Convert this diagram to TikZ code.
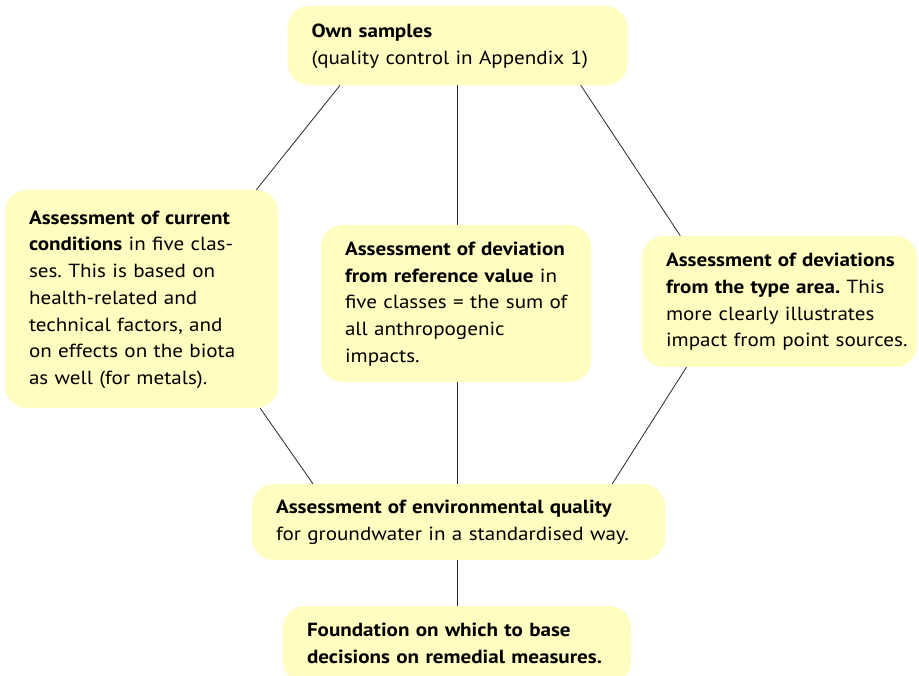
\documentclass[tikz,border=0pt]{standalone}
\usepackage{fontspec}
\setmainfont[FakeStretch=1.11]{PT Sans}
\usetikzlibrary{calc,backgrounds}
\definecolor{boxfill}{HTML}{FFFDBF}
\frenchspacing
% lines that never wrap, even past the box padding
\newcommand{\boxlines}[1]{\begin{tabular}{@{}l@{}}#1\end{tabular}}

\begin{document}
\begin{tikzpicture}[x=1pt,y=-1pt,
    box/.style={fill=boxfill, rounded corners=22pt, align=left,
        inner xsep=24pt, inner ysep=0pt,
        font=\fontsize{19pt}{26.7pt}\selectfont},
    link/.style={draw=black!85, line width=0.8pt}]
    \useasboundingbox (0,0) rectangle (919,676);

    \node[box, text width=292pt, minimum height=79pt] (own) at (457.5,45.5)
        {\boxlines{\textbf{Own samples}\\(quality control in Appendix 1)}};
    \node[box, text width=225pt, minimum height=218pt] (cond) at (141.5,299)
        {\boxlines{\textbf{Assessment of current}\\\textbf{conditions} in five clas-\\ses. This is based on\\health-related and\\technical factors, and\\on effects on the biota\\as well (for metals).}};
    \node[box, text width=222pt, minimum height=157pt] (dev) at (456,303.5)
        {\boxlines{\textbf{Assessment of deviation}\\\textbf{from reference value} in\\five classes = the sum of\\all anthropogenic\\impacts.}};
    \node[box, text width=227pt, minimum height=131pt] (type) at (779.5,301.5)
        {\boxlines{\textbf{Assessment of deviations}\\\textbf{from the type area.} This\\more clearly illustrates\\impact from point sources.}};
    \node[box, text width=365pt, minimum height=76pt] (env) at (458.5,522)
        {\boxlines{\textbf{Assessment of environmental quality}\\for groundwater in a standardised way.}};
    \node[box, text width=300pt, minimum height=77pt] (found) at (457,644.5)
        {\boxlines{\textbf{Foundation on which to base}\\\textbf{decisions on remedial measures.}}};

    % connectors run behind the boxes
    \begin{pgfonlayer}{background}
        \draw[link] ($(own.south west)!0.155!(own.south east)$) -- ($(cond.north west)!0.92!(cond.north east)$);
        \draw[link] (own.south) -- (own.south |- dev.north);
        \draw[link] ($(own.south west)!0.862!(own.south east)$) -- ($(type.north west)!0.14!(type.north east)$);
        \draw[link] ($(cond.south west)!0.934!(cond.south east)$) -- ($(env.north west)!0.148!(env.north east)$);
        \draw[link] (dev.south -| own.south) -- (env.north -| own.south);
        \draw[link] ($(type.south west)!0.162!(type.south east)$) -- ($(env.north west)!0.872!(env.north east)$);
        \draw[link] (env.south -| own.south) -- (found.north -| own.south);
    \end{pgfonlayer}
\end{tikzpicture}
\end{document}
